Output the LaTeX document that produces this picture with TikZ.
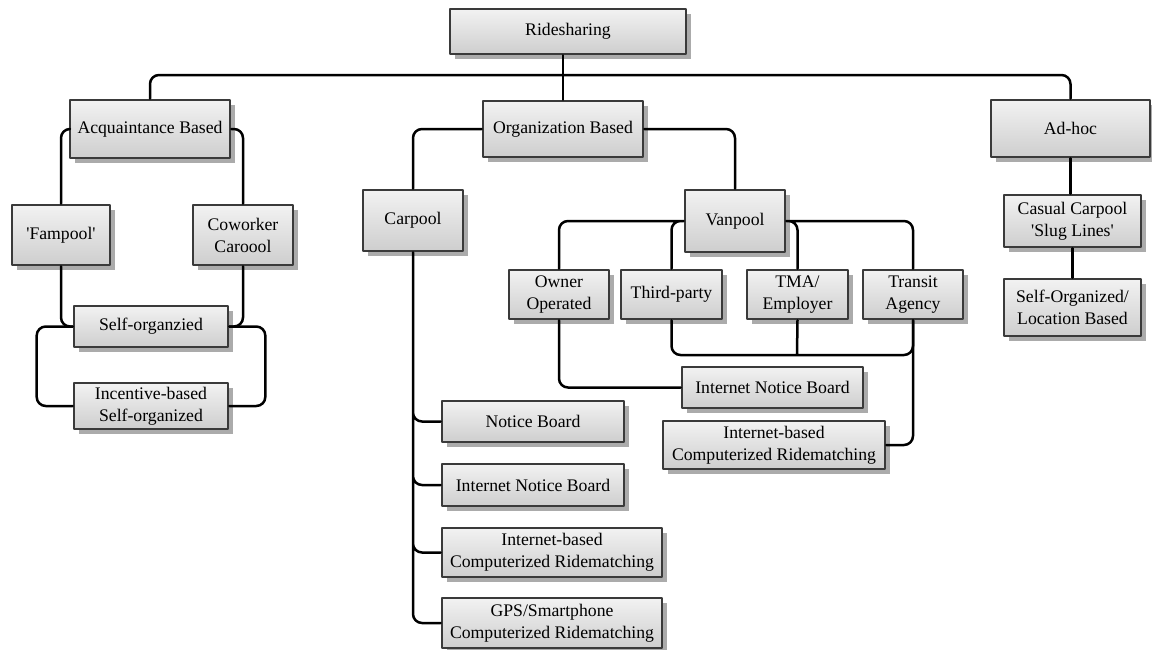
\documentclass[tikz,border=0pt]{standalone}
\usepackage{fontspec}
\setmainfont{Liberation Serif}
\usetikzlibrary{shadows}
\definecolor{boxtop}{HTML}{F2F2F2}
\definecolor{boxbot}{HTML}{CECECE}
\definecolor{boxline}{HTML}{3A3A3A}
\definecolor{boxshade}{HTML}{ABABAB}
\begin{document}
\begin{tikzpicture}[x = 1pt, y = -1pt, line join = round, line cap = round,
	box/.style = {draw = boxline, line width = 2.6pt, top color = boxtop, bottom color = boxbot,
		drop shadow = {shadow xshift = 5pt, shadow yshift = -5pt, fill = boxshade, opacity = 1},
		align = center, inner sep = 0pt, font = \fontsize{17.7}{22}\selectfont},
	link/.style = {line width = 2.5pt, rounded corners = 9pt}]
				\useasboundingbox (0,0) rectangle (1152,649);
				% top levels
				\path (568,31.5) node[box, minimum width = 236pt, minimum height = 45pt] (ride) {Ridesharing}
				(150,129) node[box, minimum width = 160pt, minimum height = 58pt] (acq) {Acquaintance Based}
				(563,129) node[box, minimum width = 160pt, minimum height = 56pt] (org) {Organization Based}
				(1070.5,128.5) node[box, minimum width = 159pt, minimum height = 57pt] (adhoc) {Ad-hoc};
				% acquaintance based
				\path (61,235) node[box, minimum width = 98pt, minimum height = 60pt] (fam) {\textquotesingle Fampool\textquotesingle}
				(243,235) node[box, minimum width = 100pt, minimum height = 60pt] (cow) {Coworker\\Caroool}
				(151,326.5) node[box, minimum width = 154pt, minimum height = 41pt] (selforg) {Self-organzied}
				(151,406) node[box, minimum width = 154pt, minimum height = 46pt] (incent) {Incentive-based\\Self-organized};
				% organization based
				\path (413,220.5) node[box, minimum width = 100pt, minimum height = 61pt] (carpool) {Carpool}
				(735,221) node[box, minimum width = 100pt, minimum height = 62pt] (vanpool) {Vanpool}
				(559,294.5) node[box, minimum width = 100pt, minimum height = 49pt] (owner) {Owner\\Operated}
				(671.5,294.5) node[box, minimum width = 101pt, minimum height = 49pt] (third) {Third-party}
				(797.5,294.5) node[box, minimum width = 101pt, minimum height = 49pt] (tma) {TMA/\\Employer}
				(913,294.5) node[box, minimum width = 100pt, minimum height = 49pt] (transit) {Transit\\Agency}
				(772.5,387.5) node[box, minimum width = 181pt, minimum height = 41pt] (vinb) {Internet Notice Board}
				(774,445) node[box, minimum width = 222pt, minimum height = 48pt] (vicr) {Internet-based\\Computerized Ridematching}
				(533,421.5) node[box, minimum width = 182pt, minimum height = 41pt] (cnb) {Notice Board}
				(533,485) node[box, minimum width = 182pt, minimum height = 42pt] (cinb) {Internet Notice Board}
				(552,552.5) node[box, minimum width = 220pt, minimum height = 49pt] (cicr) {Internet-based\\Computerized Ridematching}
				(552,623) node[box, minimum width = 220pt, minimum height = 50pt] (cgps) {GPS/Smartphone\\Computerized Ridematching};
				% ad-hoc
				\path (1072.5,221) node[box, minimum width = 137pt, minimum height = 52pt] (casual) {Casual Carpool\\\textquotesingle Slug Lines\textquotesingle}
				(1072.5,307.5) node[box, minimum width = 137pt, minimum height = 57pt] (selfloc) {Self-Organized/\\Location Based};
				\coordinate (bus) at (563,75);
				\coordinate (vbot) at (797,355);
				% connectors
				\draw[link] (acq.north) |- (bus) -| (adhoc.north);
				\draw[link] (org.north) -- (org.north |- ride.south);
				\draw[link] (acq.west) -| (fam.north) (acq.east) -| (cow.north);
				\draw[link] (fam.south) |- (selforg.west) (cow.south) |- (selforg.east);
				\draw[link] (selforg.west) -- ++(-36,0) |- (incent.west);
				\draw[link] (selforg.east) -- ++(36,0) |- (incent.east);
				\draw[link] (org.west) -| (carpool.north) (org.east) -| (vanpool.north);
				\draw[link] (carpool.south) |- (cnb.west) (carpool.south) |- (cinb.west)
				(carpool.south) |- (cicr.west) (carpool.south) |- (cgps.west);
				\draw[link] (vanpool.west) -| (owner.north) (vanpool.west) -| (third.north);
				\draw[link] (vanpool.east) -| (transit.north) (vanpool.east) -| (tma.north);
				\draw[link] (third.south) |- (vbot) -| (transit.south) (tma.south) -- (vbot);
				\draw[link] (transit.south) |- (vicr.east);
				\draw[link] (owner.south) |- (vinb.west);
				\draw[link] (adhoc.south) -- (adhoc.south |- casual.north) (casual.south) -- (selfloc.north);
			\end{tikzpicture}
\end{document}
